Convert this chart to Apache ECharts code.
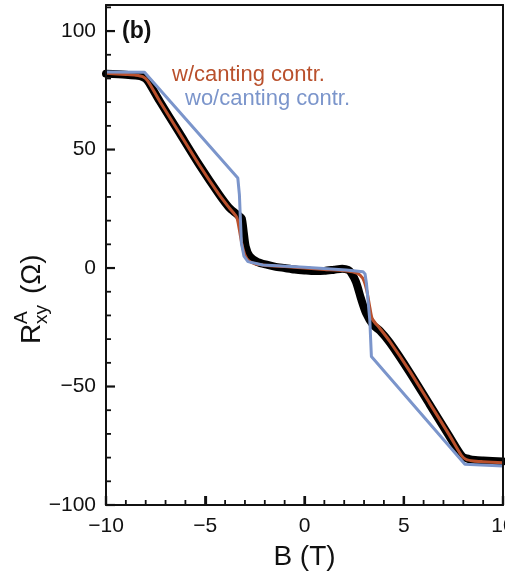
<!DOCTYPE html>
<html>
<head>
<meta charset="utf-8">
<script src="https://cdn.jsdelivr.net/npm/echarts@6/dist/echarts.min.js"></script>
<style>
  html, body { margin: 0; padding: 0; background: #fff; }
  #chart { width: 505px; height: 580px; }
</style>
</head>
<body>
<div id="chart"></div>
<script>
// Measured anomalous Hall resistance (thick black trace)
const measB = [-10, -9, -8.5, -8.15, -7.9, -7.3, -6.3, -5.3, -4.3, -3.8, -3.45, -3.3, -3.16, -3.06, -2.96, -2.76, -2.36, -1.86, -1.5, -1.0, -0.5, 0, 0.5, 1.0, 1.5, 1.9, 2.2, 2.35, 2.6, 2.85, 3.1, 3.45, 3.8, 4.3, 5.3, 6.3, 7.3, 7.95, 8.3, 8.6, 9, 10];
const measR = [82, 81.6, 81.2, 80.6, 79, 70.5, 57, 43.5, 31, 25.5, 23, 22, 21, 15, 9, 5, 2.5, 1.3, 0.6, 0, -0.6, -1.0, -1.3, -1.2, -0.7, -0.3, -0.8, -2, -6, -13, -19, -24, -26.5, -31.5, -44, -57.5, -71, -79.5, -80.6, -81, -81.2, -81.6];

// Model including the canting contribution
const cantB = [-10, -9, -8.5, -8.15, -7.9, -7.3, -6.3, -5.3, -4.3, -3.8, -3.42, -3.3, -3.15, -3.0, -2.8, -2.5, -2.0, -1.0, 0, 1.0, 2.0, 2.5, 2.8, 3.0, 3.15, 3.3, 3.42, 3.8, 4.3, 5.3, 6.3, 7.3, 7.9, 8.15, 8.5, 9, 10];
const cantR = [82.2, 81.7, 81.4, 80.8, 79, 70.5, 57, 43.5, 31, 25.5, 21.5, 17, 10, 5.5, 3, 1.8, 1.2, 0.6, 0, -0.6, -1.2, -1.8, -3, -5.5, -10, -17, -21.5, -25.5, -31, -43.5, -57, -70.5, -79, -80.8, -81.4, -81.7, -82.2];

// Model without the canting contribution
const plainB = [-10, -8.06, -3.36, -3.28, -3.18, -3.05, -2.85, -2.1, 0, 2.1, 2.95, 3.05, 3.12, 3.29, 3.37, 8.08, 10];
const plainR = [82.7, 82.6, 38, 31, 10.6, 5, 2.7, 1.3, 0.3, -0.85, -1.6, -2.5, -6.4, -22, -37.3, -82.8, -83.5];

// Axis ticks and labels
const xMajorTicks = [-10, -5, 0, 5, 10];
const xMinorTicks = [-9, -8, -7, -6, -4, -3, -2, -1, 1, 2, 3, 4, 6, 7, 8, 9];
const yMajorTicks = [-100, -50, 0, 50, 100];
const yMinorTicks = [-90, -80, -70, -60, -40, -30, -20, -10, 10, 20, 30, 40, 60, 70, 80, 90, 110];

const X_MIN = -10, X_MAX = 10, Y_MIN = -100, Y_MAX = 111;

const FONT = 'Liberation Sans, Arial, Helvetica, sans-serif';
const RED = '#b9502c';
const BLUE = '#7b95cb';
const INK = '#111';

const pairs = (xs, ys) => xs.map((x, i) => [x, ys[i]]);
const minus = v => String(v).replace('-', '\u2212');

// Inward tick marks: [x, y, direction (0 = on x axis, 1 = on y axis), length px]
const tickData = []
  .concat(xMajorTicks.map(v => [v, Y_MIN, 0, 9]))
  .concat(xMinorTicks.map(v => [v, Y_MIN, 0, 5]))
  .concat(yMajorTicks.map(v => [X_MIN, v, 1, 9]))
  .concat(yMinorTicks.map(v => [X_MIN, v, 1, 5]));

function renderTick(params, api) {
  const p = api.coord([api.value(0), api.value(1)]);
  const len = api.value(3);
  const onX = api.value(2) === 0;
  const major = len > 6;
  return {
    type: 'line',
    shape: onX
      ? { x1: p[0], y1: p[1], x2: p[0], y2: p[1] - len }
      : { x1: p[0], y1: p[1], x2: p[0] + len, y2: p[1] },
    style: { stroke: INK, lineWidth: major ? 2.2 : 1.8 }
  };
}

const chart = echarts.init(document.getElementById('chart'), null, { renderer: 'canvas' });

// Top and right frame edges
const frameEdge = {
  type: 'value', splitLine: { show: false },
  axisTick: { show: false }, axisLabel: { show: false },
  axisLine: { show: true, onZero: false, lineStyle: { color: INK, width: 2 } }
};

chart.setOption({
  animation: false,
  backgroundColor: '#fff',
  grid: {
    left: 106, right: 2, top: 5, bottom: 75,
    outerBoundsMode: 'none', containLabel: false
  },
  xAxis: [
    {
      type: 'value', min: X_MIN, max: X_MAX, interval: 5, position: 'bottom', z: 10,
      splitLine: { show: false },
      axisLine: { show: true, onZero: false, lineStyle: { color: INK, width: 2 } },
      axisTick: { show: true, inside: true, length: 9, lineStyle: { color: INK, width: 2.2 } },
      axisLabel: {
        show: true, margin: 11,
        fontFamily: FONT, fontSize: 21, color: INK,
        formatter: v => (xMajorTicks.includes(v) ? minus(v) : '')
      },
      name: 'B (T)', nameLocation: 'middle', nameGap: 38,
      nameTextStyle: { fontFamily: FONT, fontSize: 28, color: INK }
    },
    Object.assign({ min: X_MIN, max: X_MAX, position: 'top', z: 10 }, frameEdge)
  ],
  yAxis: [
    {
      type: 'value', min: Y_MIN, max: Y_MAX, interval: 50, position: 'left', z: 10,
      splitLine: { show: false },
      axisLine: { show: true, onZero: false, lineStyle: { color: INK, width: 2 } },
      axisTick: { show: false },
      axisLabel: {
        show: true, margin: 10,
        fontFamily: FONT, fontSize: 21, color: INK,
        formatter: v => (yMajorTicks.includes(v) ? minus(v) : '')
      }
    },
    Object.assign({ min: Y_MIN, max: Y_MAX, position: 'right', z: 10 }, frameEdge)
  ],
  series: [
    {
      name: 'ticks', type: 'custom', data: tickData,
      renderItem: renderTick, clip: false, silent: true,
      encode: { x: 0, y: 1 }, z: 10
    },
    {
      name: 'data', type: 'line', data: pairs(measB, measR),
      showSymbol: false, smooth: 0.25,
      lineStyle: { color: '#000', width: 8, cap: 'round', join: 'round' },
      z: 2
    },
    {
      name: 'w/canting contr.', type: 'line', data: pairs(cantB, cantR),
      showSymbol: false, smooth: 0.25,
      lineStyle: { color: RED, width: 3, join: 'round' },
      z: 3
    },
    {
      name: 'wo/canting contr.', type: 'line', data: pairs(plainB, plainR),
      showSymbol: false,
      lineStyle: { color: BLUE, width: 3, join: 'round' },
      z: 4
    }
  ],
  graphic: [
    {
      type: 'text', left: 122, top: 20, z: 10,
      style: { text: '(b)', fontFamily: FONT, fontSize: 23, fontWeight: 'bold', fill: INK }
    },
    {
      type: 'text', left: 172, top: 64, z: 10,
      style: { text: 'w/canting contr.', fontFamily: FONT, fontSize: 22, fill: RED }
    },
    {
      type: 'text', left: 185, top: 88, z: 10,
      style: { text: 'wo/canting contr.', fontFamily: FONT, fontSize: 22, fill: BLUE }
    },
    {
      // Rotated y-axis title: R with superscript A and subscript xy, then (Ω)
      type: 'group', x: 32, y: 272, rotation: Math.PI / 2, z: 10,
      children: [
        { type: 'text', x: -72, y: 0, style: { text: 'R', fontFamily: FONT, fontSize: 28, fill: INK, textVerticalAlign: 'middle' } },
        { type: 'text', x: -52, y: -10, style: { text: 'A', fontFamily: FONT, fontSize: 19, fill: INK, textVerticalAlign: 'middle' } },
        { type: 'text', x: -52, y: 10, style: { text: 'xy', fontFamily: FONT, fontSize: 19, fill: INK, textVerticalAlign: 'middle' } },
        { type: 'text', x: -22, y: 0, style: { text: '(\u03A9)', fontFamily: FONT, fontSize: 28, fill: INK, textVerticalAlign: 'middle' } }
      ]
    }
  ]
});
</script>
</body>
</html>
